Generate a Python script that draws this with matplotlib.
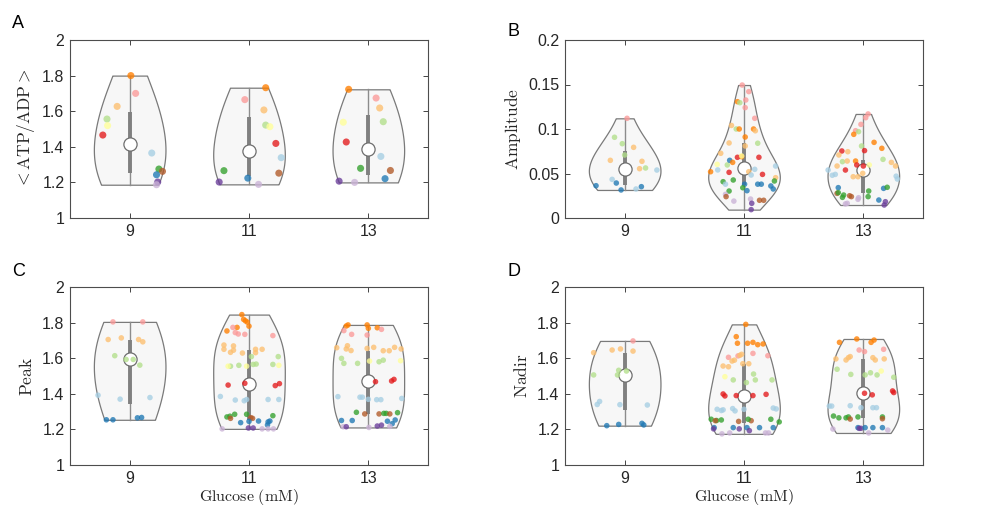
import numpy as np
import matplotlib
matplotlib.use("Agg")
import matplotlib.pyplot as plt

plt.rcParams['font.family'] = ['Liberation Sans', 'DejaVu Sans']
plt.rcParams['mathtext.fontset'] = 'cm'

glucose = [9, 11, 13]
paired = plt.get_cmap('Paired').colors  # one colour per cell

# ---------------- A: <ATP/ADP> ----------------
a9_cell = [7, 4, 6, 2, 10, 5, 0, 3, 11, 1, 9, 8]
a9_val = [1.80, 1.70, 1.627, 1.556, 1.519, 1.466, 1.365, 1.275, 1.262, 1.243, 1.202, 1.187]
a9_jit = [0.02, 0.10, -0.21, -0.38, -0.37, -0.45, 0.37, 0.49, 0.55, 0.45, 0.47, 0.45]
a11_cell = [7, 4, 6, 2, 10, 5, 0, 11, 3, 1, 9, 8]
a11_val = [1.732, 1.665, 1.607, 1.522, 1.513, 1.419, 1.339, 1.252, 1.266, 1.224, 1.202, 1.189]
a11_jit = [0.28, -0.07, 0.25, 0.28, 0.35, 0.45, 0.54, 0.50, -0.42, -0.02, -0.50, 0.16]
a13_cell = [7, 4, 6, 2, 10, 5, 0, 3, 11, 1, 9, 8]
a13_val = [1.723, 1.674, 1.618, 1.541, 1.538, 1.427, 1.346, 1.279, 1.267, 1.221, 1.207, 1.200]
a13_jit = [-0.33, 0.13, 0.19, 0.25, -0.42, -0.37, 0.21, -0.13, 0.37, 0.28, -0.49, -0.23]
a_med = [1.415, 1.377, 1.386]
a_q1 = [1.251, 1.235, 1.241]
a_q3 = [1.594, 1.569, 1.581]

# ---------------- B: amplitude ----------------
b9_cell = [4, 2, 2, 6, 2, 6, 6, 6, 2, 0, 0, 1, 1, 1, 0, 1]
b9_val = [0.112, 0.0907, 0.0835, 0.0794, 0.0708, 0.0648, 0.0637, 0.0554, 0.0562, 0.0539,
          0.0434, 0.0393, 0.0363, 0.0315, 0.0326, 0.0352]
b9_jit = [0.04, -0.17, -0.04, 0.15, 0.0, -0.24, 0.29, 0.25, 0.35, 0.54,
          -0.21, -0.14, -0.48, -0.06, 0.19, 0.28]
b11_cell = [4, 4, 4, 7, 2, 4, 4, 6, 2, 7, 7, 6, 7, 6, 2, 6, 6, 7, 5, 5, 10, 2, 1, 7, 10,
            0, 0, 0, 7, 5, 6, 0, 5, 6, 3, 3, 0, 3, 1, 1, 1, 1, 1, 3, 3, 1, 8, 11, 8, 8,
            11, 11, 9, 9]
b11_val = [0.1494, 0.142, 0.1326, 0.1307, 0.1296, 0.124, 0.112, 0.104, 0.100, 0.100,
           0.100, 0.098, 0.091, 0.0843, 0.084, 0.0809, 0.0727, 0.0689, 0.0682, 0.0682,
           0.0603, 0.0596, 0.0648, 0.0625, 0.0697, 0.0547, 0.0584, 0.054, 0.052, 0.0513,
           0.052, 0.0483, 0.049, 0.0453, 0.0416, 0.0408, 0.038, 0.0427, 0.038, 0.038,
           0.038, 0.036, 0.0326, 0.034, 0.0303, 0.0307, 0.0266, 0.024, 0.019, 0.0213,
           0.0199, 0.0199, 0.0165, 0.0094]
b11_jit = [-0.03, 0.08, 0.03, -0.11, -0.07, 0.02, 0.18, -0.21, -0.13, -0.08,
           0.16, 0.19, 0.02, -0.25, 0.23, 0.02, -0.39, -0.04, -0.11, 0.25,
           -0.45, -0.28, -0.24, -0.19, -0.04, 0.18, 0.53, -0.44, -0.56, -0.25,
           0.08, 0.12, 0.31, 0.53, 0.51, -0.35, -0.31, -0.18, 0.01, 0.23,
           0.29, 0.45, 0.49, -0.02, -0.25, 0.05, -0.31, -0.30, -0.17, 0.11,
           0.26, 0.33, 0.13, 0.12]
b13_cell = [4, 4, 4, 4, 7, 2, 7, 2, 7, 5, 6, 5, 6, 2, 6, 7, 2, 6, 6, 5, 10, 6, 5, 0, 5,
            0, 0, 6, 6, 6, 0, 0, 1, 3, 1, 3, 11, 3, 3, 3, 11, 11, 8, 8, 3, 1, 8, 8, 9, 9]
b13_val = [0.1169, 0.1127, 0.1052, 0.0981, 0.094, 0.097, 0.085, 0.0809, 0.0783, 0.0753,
           0.0745, 0.0757, 0.0708, 0.0633, 0.064, 0.064, 0.0659, 0.0625, 0.0584, 0.0596,
           0.0596, 0.0584, 0.0584, 0.0539, 0.0539, 0.049, 0.048, 0.0464, 0.0464, 0.0502,
           0.047, 0.0438, 0.0341, 0.0303, 0.0333, 0.0345, 0.0277, 0.0285, 0.0258, 0.0232,
           0.025, 0.024, 0.0228, 0.021, 0.024, 0.0202, 0.0165, 0.0158, 0.0183, 0.0146]
b13_jit = [0.08, 0.04, -0.04, -0.13, -0.16, -0.08, 0.18, -0.03, 0.31, -0.36,
           -0.26, 0.02, -0.41, -0.35, -0.27, -0.13, 0.33, 0.47, 0.54, -0.11,
           0.10, -0.44, 0.0, -0.59, -0.30, -0.47, -0.52, -0.17, -0.09, -0.01,
           0.55, 0.57, -0.42, 0.09, 0.34, 0.40, -0.44, -0.42, -0.33, -0.35,
           -0.23, -0.20, -0.08, -0.09, 0.08, 0.26, -0.27, -0.30, 0.37, 0.35]
b_med = [0.0556, 0.0557, 0.0541]
b_q1 = [0.0375, 0.037, 0.0285]
b_q3 = [0.0749, 0.0845, 0.065]

# ---------------- C: peak ----------------
c9_cell = [4, 4, 6, 6, 6, 6, 2, 2, 2, 2, 0, 0, 0, 1, 1, 1, 1]
c9_val = [1.804, 1.804, 1.705, 1.714, 1.705, 1.692, 1.614, 1.593, 1.593, 1.561,
          1.392, 1.370, 1.379, 1.254, 1.254, 1.265, 1.267]
c9_jit = [-0.28, 0.22, -0.36, -0.14, 0.15, 0.22, -0.25, -0.06, 0.06, 0.17,
          -0.53, -0.16, 0.34, -0.39, -0.28, 0.13, 0.20]
c11_cell = [7, 7, 7, 7, 7, 7, 7, 4, 4, 4, 4, 4, 6, 6, 6, 6, 6, 6, 6, 6, 6, 2, 2, 2, 2,
            2, 2, 10, 2, 10, 10, 5, 5, 5, 5, 0, 0, 0, 0, 0, 0, 3, 3, 3, 11, 3, 11, 11,
            3, 1, 1, 1, 1, 1, 1, 8, 9, 9, 8, 8, 8]
c11_val = [1.845, 1.818, 1.81, 1.803, 1.773, 1.78, 1.753, 1.773, 1.744, 1.736,
           1.734, 1.727, 1.674, 1.650, 1.669, 1.633, 1.645, 1.629, 1.650, 1.631,
           1.650, 1.609, 1.609, 1.560, 1.565, 1.567, 1.555, 1.555, 1.565, 1.555,
           1.560, 1.449, 1.459, 1.446, 1.457, 1.385, 1.365, 1.361, 1.368, 1.368,
           1.368, 1.270, 1.274, 1.285, 1.262, 1.285, 1.266, 1.262, 1.277, 1.238,
           1.245, 1.247, 1.242, 1.247, 1.225, 1.203, 1.208, 1.208, 1.203, 1.203, 1.203]
c11_jit = [-0.12, -0.09, -0.06, -0.03, -0.20, 0.0, -0.37, -0.27, -0.23, -0.18,
           -0.07, 0.40, -0.42, -0.42, -0.26, -0.31, -0.26, -0.11, 0.11, 0.11,
           0.22, 0.04, 0.49, -0.17, 0.07, 0.12, -0.31, -0.35, 0.40, -0.04,
           0.50, -0.35, -0.07, 0.44, 0.51, -0.48, -0.23, -0.08, -0.04, 0.32,
           0.50, -0.37, -0.32, -0.24, -0.31, -0.04, 0.03, 0.06, 0.40, -0.14,
           0.0, 0.16, 0.32, 0.35, 0.31, -0.45, -0.01, 0.07, 0.22, 0.32, 0.41]
c13_cell = [7, 7, 7, 7, 7, 4, 4, 4, 4, 6, 6, 6, 6, 6, 6, 6, 6, 6, 6, 2, 2, 2, 10, 2, 2,
            10, 5, 5, 5, 0, 0, 0, 0, 0, 0, 0, 3, 11, 11, 3, 3, 11, 3, 1, 1, 1, 1, 1,
            8, 9, 8, 9, 9, 8]
c13_val = [1.781, 1.787, 1.787, 1.768, 1.771, 1.755, 1.734, 1.730, 1.762, 1.659,
           1.652, 1.670, 1.643, 1.655, 1.661, 1.642, 1.642, 1.661, 1.652, 1.599,
           1.571, 1.571, 1.584, 1.580, 1.589, 1.586, 1.468, 1.472, 1.481, 1.384,
           1.381, 1.381, 1.369, 1.367, 1.367, 1.374, 1.296, 1.287, 1.287, 1.290,
           1.290, 1.287, 1.294, 1.250, 1.250, 1.246, 1.253, 1.232, 1.215, 1.215,
           1.211, 1.219, 1.224, 1.217]
c13_jit = [-0.37, -0.34, -0.02, 0.0, 0.15, -0.41, -0.28, -0.02, 0.22, -0.53,
           -0.37, -0.35, -0.29, -0.02, 0.09, 0.25, 0.35, 0.44, 0.55, -0.45,
           -0.41, -0.18, 0.02, 0.18, 0.25, 0.54, 0.12, 0.39, 0.43, -0.51,
           -0.14, -0.10, 0.0, 0.14, 0.21, 0.56, -0.20, -0.06, 0.18, 0.26,
           0.30, 0.36, 0.49, -0.45, -0.27, 0.32, 0.45, 0.40, -0.42, -0.37,
           0.01, 0.15, 0.22, 0.36]
c_med = [1.597, 1.457, 1.470]
c_q1 = [1.342, 1.252, 1.284]
c_q3 = [1.701, 1.647, 1.640]

# ---------------- D: nadir ----------------
d9_cell = [4, 6, 6, 6, 6, 2, 2, 2, 2, 0, 0, 0, 0, 1, 1, 1, 1]
d9_val = [1.697, 1.631, 1.646, 1.652, 1.640, 1.532, 1.506, 1.506, 1.528, 1.340,
          1.357, 1.339, 1.337, 1.221, 1.228, 1.234, 1.225]
d9_jit = [0.14, -0.52, -0.21, -0.07, 0.14, -0.10, -0.12, -0.52, 0.03, -0.46,
          -0.42, -0.08, 0.38, -0.30, -0.10, 0.29, 0.32]
d11_cell = [7, 7, 7, 7, 7, 7, 7, 4, 4, 4, 4, 6, 6, 6, 6, 6, 6, 6, 6, 10, 2, 2, 2, 2, 2,
            5, 5, 5, 5, 5, 0, 0, 0, 0, 0, 0, 0, 0, 3, 3, 3, 11, 11, 11, 3, 3, 3,
            1, 1, 9, 9, 1, 9, 1, 1, 8, 8, 8, 8]
d11_val = [1.790, 1.721, 1.684, 1.684, 1.689, 1.676, 1.680, 1.605, 1.613, 1.627,
           1.614, 1.584, 1.589, 1.616, 1.622, 1.556, 1.552, 1.569, 1.569, 1.496,
           1.478, 1.511, 1.478, 1.463, 1.478, 1.399, 1.388, 1.390, 1.390, 1.397,
           1.313, 1.306, 1.310, 1.317, 1.304, 1.313, 1.320, 1.315, 1.257, 1.250,
           1.253, 1.249, 1.245, 1.249, 1.257, 1.257, 1.242, 1.210, 1.210, 1.203,
           1.203, 1.210, 1.193, 1.210, 1.210, 1.175, 1.180, 1.180, 1.180]
d11_jit = [0.03, -0.13, -0.11, 0.06, 0.15, 0.23, 0.32, -0.26, -0.10, 0.15,
           0.40, -0.20, -0.16, -0.07, -0.04, -0.35, -0.26, -0.02, 0.08, -0.32,
           -0.18, 0.16, 0.19, 0.04, 0.47, -0.35, -0.32, -0.13, 0.15, 0.37,
           -0.45, -0.38, -0.35, -0.19, -0.15, 0.0, 0.49, 0.54, -0.55, -0.46,
           -0.38, -0.48, -0.09, 0.12, 0.07, 0.45, 0.59, -0.18, -0.50, -0.51,
           -0.08, 0.05, 0.09, 0.26, 0.49, -0.37, -0.24, 0.36, 0.41]
d13_cell = [7, 7, 7, 7, 4, 4, 4, 6, 6, 6, 6, 6, 6, 6, 2, 2, 2, 2, 2, 10, 2, 5, 5, 5, 5,
            0, 0, 0, 0, 0, 0, 3, 3, 3, 3, 11, 3, 3, 11, 1, 9, 9, 1, 1, 1, 8, 8, 8]
d13_val = [1.689, 1.708, 1.689, 1.702, 1.646, 1.637, 1.650, 1.596, 1.590, 1.603,
           1.609, 1.603, 1.590, 1.596, 1.538, 1.509, 1.506, 1.518, 1.506, 1.528,
           1.493, 1.403, 1.394, 1.416, 1.407, 1.331, 1.331, 1.333, 1.322, 1.322,
           1.322, 1.275, 1.265, 1.265, 1.270, 1.258, 1.270, 1.270, 1.260, 1.210,
           1.206, 1.206, 1.210, 1.210, 1.210, 1.202, 1.180, 1.196]
d13_jit = [-0.40, -0.11, 0.13, 0.18, -0.07, 0.02, 0.34, -0.46, -0.29, -0.25,
           -0.22, 0.16, 0.20, 0.35, -0.44, -0.21, 0.03, 0.12, 0.23, 0.30,
           0.51, 0.02, 0.15, 0.49, 0.51, -0.57, -0.53, -0.22, -0.04, 0.16,
           0.22, -0.50, -0.41, -0.29, -0.25, -0.22, -0.09, 0.32, 0.32, -0.09,
           -0.07, -0.04, 0.03, 0.16, 0.32, -0.51, 0.09, 0.41]
d_med = [1.504, 1.390, 1.402]
d_q1 = [1.308, 1.236, 1.262]
d_q3 = [1.632, 1.570, 1.594]


def violin(ax, x0, vals, jit, cells, med, q1, q3, dot):
    vals = np.asarray(vals)
    lo, hi = vals.min(), vals.max()
    grid = np.linspace(lo, hi, 200)
    # gaussian kernel, normal-reference bandwidth (widened a bit to match the smooth outline)
    sig = np.median(np.abs(vals - np.median(vals))) / 0.6745
    bw = 1.3 * sig * (4 / (3 * len(vals))) ** 0.2
    dens = np.exp(-0.5 * ((grid[:, None] - vals[None, :]) / bw) ** 2).sum(axis=1)
    half = 0.6 * dens / dens.max()
    ax.fill_betweenx(grid, x0 - half, x0 + half, facecolor='#f7f7f7',
                     edgecolor='#7a7a7a', lw=0.9, zorder=1)
    ax.plot([x0, x0], [lo, hi], color='#8c8c8c', lw=1.0, zorder=2)
    ax.plot([x0, x0], [q1, q3], color='#808080', lw=2.8, solid_capstyle='butt', zorder=3)
    ax.plot(x0, med, 'o', ms=9.5, mfc='white', mec='#6e6e6e', mew=0.9, zorder=4)
    ax.scatter(x0 + np.asarray(jit), vals, s=dot, c=[paired[c] for c in cells],
               alpha=0.78, linewidths=0, zorder=5)


fig = plt.figure(figsize=(9.86, 5.17), dpi=100)
w, h = 358 / 986, 178 / 517
axA = fig.add_axes([70 / 986, 1 - 218 / 517, w, h])
axB = fig.add_axes([565 / 986, 1 - 218 / 517, w, h])
axC = fig.add_axes([70 / 986, 1 - 465 / 517, w, h])
axD = fig.add_axes([565 / 986, 1 - 465 / 517, w, h])

panels = [
    (axA, [(a9_val, a9_jit, a9_cell), (a11_val, a11_jit, a11_cell), (a13_val, a13_jit, a13_cell)],
     a_med, a_q1, a_q3, 26),
    (axB, [(b9_val, b9_jit, b9_cell), (b11_val, b11_jit, b11_cell), (b13_val, b13_jit, b13_cell)],
     b_med, b_q1, b_q3, 16),
    (axC, [(c9_val, c9_jit, c9_cell), (c11_val, c11_jit, c11_cell), (c13_val, c13_jit, c13_cell)],
     c_med, c_q1, c_q3, 16),
    (axD, [(d9_val, d9_jit, d9_cell), (d11_val, d11_jit, d11_cell), (d13_val, d13_jit, d13_cell)],
     d_med, d_q1, d_q3, 16),
]
for ax, groups, med, q1, q3, dot in panels:
    for i, (v, j, c) in enumerate(groups):
        violin(ax, glucose[i], v, j, c, med[i], q1[i], q3[i], dot)
    ax.set_xlim(8, 14)
    ax.set_xticks(glucose)
    ax.set_xticklabels([str(g) for g in glucose])
    ax.tick_params(direction='in', top=True, right=True, length=3.5, width=0.6,
                   colors='#262626', labelsize=11.5, pad=4)
    for s in ax.spines.values():
        s.set_color('#4d4d4d')
        s.set_linewidth(0.8)

for ax in (axA, axC, axD):
    ax.set_ylim(1, 2)
    ax.set_yticks([1, 1.2, 1.4, 1.6, 1.8, 2])
    ax.set_yticklabels(['1', '1.2', '1.4', '1.6', '1.8', '2'])
axB.set_ylim(0, 0.2)
axB.set_yticks([0, 0.05, 0.1, 0.15, 0.2])
axB.set_yticklabels(['0', '0.05', '0.1', '0.15', '0.2'])

lab = dict(fontsize=12.5, color='#262626')
axA.set_ylabel(r'$<\mathrm{ATP/ADP}>$', **lab)
axB.set_ylabel(r'$\mathrm{Amplitude}$', **lab)
axC.set_ylabel(r'$\mathrm{Peak}$', **lab)
axD.set_ylabel(r'$\mathrm{Nadir}$', **lab)
axA.yaxis.set_label_coords(-0.092, 0.5)
axB.yaxis.set_label_coords(-0.117, 0.5)
axC.yaxis.set_label_coords(-0.098, 0.5)
axD.yaxis.set_label_coords(-0.098, 0.5)
for ax in (axC, axD):
    ax.set_xlabel(r'$\mathrm{Glucose\ (mM)}$', fontsize=11.5, color='#262626')
    ax.xaxis.set_label_coords(0.5, -0.125)

for txt, x, y in [('A', 12, 23), ('B', 507, 31), ('C', 12, 271), ('D', 507, 271)]:
    fig.text(x / 986, 1 - y / 517, txt, fontsize=13, va='center', ha='left', color='black')

fig.savefig('out.png', dpi=100)
